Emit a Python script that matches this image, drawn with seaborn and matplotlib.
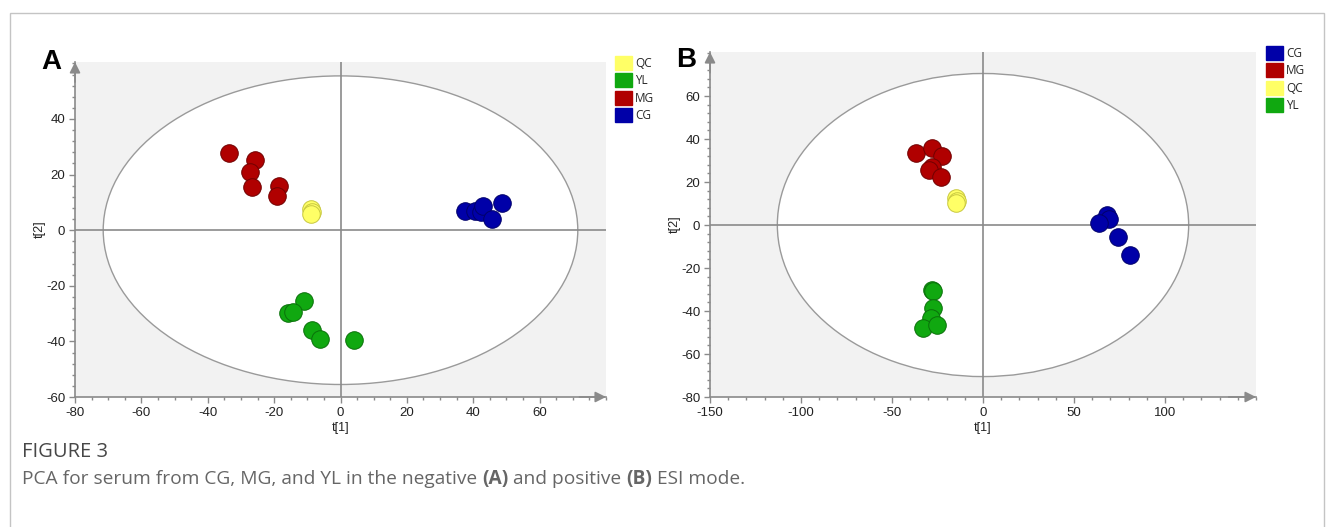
import matplotlib
matplotlib.use("Agg")
import matplotlib.pyplot as plt
from matplotlib.patches import Ellipse, Patch, Rectangle
from matplotlib.ticker import MultipleLocator
import pandas as pd
import seaborn as sns

# ---- data (PCA scores t[1], t[2]) ----
# Panel A: negative ESI mode
A_MG_X = [-33.5, -25.9, -27.2, -26.6, -18.6, -19.2]
A_MG_Y = [27.6, 25.3, 21.1, 15.4, 15.8, 12.2]
A_QC_X = [-8.8, -8.5, -9.0]
A_QC_Y = [7.6, 6.7, 5.8]
A_CG_X = [37.4, 40.6, 42.2, 43.0, 45.8, 48.6]
A_CG_Y = [7.0, 7.0, 6.4, 8.8, 4.2, 9.7]
A_YL_X = [-11.0, -15.9, -14.2, -8.5, -6.1, 4.1]
A_YL_Y = [-25.5, -29.8, -29.4, -35.8, -39.0, -39.4]
A_ELLIPSE = (71.5, 55.5)          # Hotelling T2 semi-axes
A_ORDER = ["QC", "YL", "MG", "CG"]

# Panel B: positive ESI mode
B_MG_X = [-36.6, -28.0, -22.5, -27.8, -29.4, -23.3]
B_MG_Y = [33.4, 35.9, 32.2, 26.9, 25.8, 22.5]
B_QC_X = [-15.0, -14.5, -15.0]
B_QC_Y = [12.5, 11.3, 10.2]
B_CG_X = [68.4, 69.1, 63.8, 74.3, 80.5]
B_CG_Y = [4.7, 2.7, 1.1, -5.5, -13.8]
B_YL_X = [-28.0, -27.3, -27.3, -28.7, -33.2, -25.4]
B_YL_Y = [-30.2, -30.6, -38.8, -43.1, -47.8, -46.6]
B_ELLIPSE = (113.0, 70.5)
B_ORDER = ["CG", "MG", "QC", "YL"]

COLORS = {"CG": "#0000A8", "MG": "#B00000", "QC": "#FFFF66", "YL": "#10A810"}
EDGES = {"CG": "#00006A", "MG": "#700000", "QC": "#C8C840", "YL": "#0A700A"}

sns.set_theme(style="white")
plt.rcParams["font.family"] = ["Liberation Sans", "DejaVu Sans"]
GREY = "#8A8A8A"

W, H = 1333, 527


def frame(groups):
    rows = []
    for name, xs, ys in groups:
        rows += [{"t1": x, "t2": y, "group": name} for x, y in zip(xs, ys)]
    return pd.DataFrame(rows)


df_a = frame([("MG", A_MG_X, A_MG_Y), ("QC", A_QC_X, A_QC_Y),
              ("CG", A_CG_X, A_CG_Y), ("YL", A_YL_X, A_YL_Y)])
df_b = frame([("MG", B_MG_X, B_MG_Y), ("QC", B_QC_X, B_QC_Y),
              ("CG", B_CG_X, B_CG_Y), ("YL", B_YL_X, B_YL_Y)])


def draw_panel(ax, df, ell, xlim, ylim, xmaj, xmin, ymaj, ymin, letter, order, leg_xy):
    ax.set_facecolor("#F2F2F2")
    ax.add_patch(Ellipse((0, 0), 2 * ell[0], 2 * ell[1], facecolor="white",
                         edgecolor="#9A9A9A", lw=1.0, zorder=0.5))
    ax.axhline(0, color=GREY, lw=1.2, zorder=1)
    ax.axvline(0, color=GREY, lw=1.2, zorder=1)

    for g in order:
        sub = df[df["group"] == g]
        sns.scatterplot(data=sub, x="t1", y="t2", ax=ax, color=COLORS[g],
                        edgecolor=EDGES[g], linewidth=0.7, s=160, zorder=3,
                        legend=False)

    ax.set_xlim(*xlim)
    ax.set_ylim(*ylim)
    ax.xaxis.set_major_locator(MultipleLocator(xmaj))
    ax.xaxis.set_minor_locator(MultipleLocator(xmin))
    ax.yaxis.set_major_locator(MultipleLocator(ymaj))
    ax.yaxis.set_minor_locator(MultipleLocator(ymin))
    ax.tick_params(which="major", length=4, width=1, color=GREY, labelsize=9.5,
                   labelcolor="#222222", pad=3, bottom=True, left=True)
    ax.tick_params(which="minor", length=2.5, width=1, color=GREY,
                   bottom=True, left=True)
    # no tick label at the arrow end of each axis
    xt = [t for t in ax.get_xticks() if xlim[0] <= t < xlim[1] - 2]
    yt = [t for t in ax.get_yticks() if ylim[0] <= t < ylim[1] - 2]
    ax.set_xticks(xt)
    ax.set_yticks(yt)
    ax.set_xticklabels([f"{t:g}" for t in xt])
    ax.set_yticklabels([f"{t:g}" for t in yt])

    for side in ["top", "right"]:
        ax.spines[side].set_visible(False)
    for side in ["left", "bottom"]:
        ax.spines[side].set_color(GREY)
        ax.spines[side].set_linewidth(1.2)
    ax.annotate("", xy=(1.0, 0), xytext=(0.95, 0), xycoords="axes fraction",
                arrowprops=dict(arrowstyle="-|>", color=GREY, lw=1.2,
                                mutation_scale=16, shrinkA=0, shrinkB=0))
    ax.annotate("", xy=(0, 1.0), xytext=(0, 0.94), xycoords="axes fraction",
                arrowprops=dict(arrowstyle="-|>", color=GREY, lw=1.2,
                                mutation_scale=16, shrinkA=0, shrinkB=0))

    ax.set_xlabel("t[1]", fontsize=9, color="#222222", labelpad=2)
    ax.set_ylabel("t[2]", fontsize=9, color="#222222", labelpad=0)
    ax.grid(False)

    handles = [Patch(facecolor=COLORS[g], edgecolor=COLORS[g], label=g) for g in order]
    leg = ax.figure.legend(handles=handles, loc="upper left",
                           bbox_to_anchor=(leg_xy[0] / W, 1 - leg_xy[1] / H),
                           frameon=False, handlelength=1.45,
                           handleheight=1.45, handletextpad=0.25,
                           labelspacing=0.28, borderpad=0, borderaxespad=0,
                           prop={"family": ["Open Sans", "DejaVu Sans"], "size": 8.5})
    ax.figure.text(*letter[1], letter[0], fontsize=20, fontweight="bold",
                   color="black", family=["Liberation Sans", "DejaVu Sans"],
                   ha="left", va="center", transform=ax.figure.transFigure)
    return leg


fig = plt.figure(figsize=(W / 100, H / 100), dpi=100)
ax_a = fig.add_axes([75 / W, 1 - 397 / H, (606 - 75) / W, (397 - 62) / H])
ax_b = fig.add_axes([710 / W, 1 - 397 / H, (1256 - 710) / W, (397 - 52) / H])

draw_panel(ax_a, df_a, A_ELLIPSE, (-80, 80), (-60, 60.5), 20, 5, 20, 4,
           ("A", (41 / W, 1 - 62 / H)), A_ORDER, (615, 56))
draw_panel(ax_b, df_b, B_ELLIPSE, (-150, 150), (-80, 80.5), 50, 10, 20, 4,
           ("B", (676 / W, 1 - 60 / H)), B_ORDER, (1266, 46))

# page frame
fig.add_artist(Rectangle((10 / W, -0.1), (1324 - 10) / W, 1 - 13 / H + 0.1,
                         transform=fig.transFigure, fill=False,
                         edgecolor="#C4C4C4", lw=1.0))

# caption
cap_font = ["Open Sans", "DejaVu Sans"]
fig.text(22 / W, 1 - 452 / H, "FIGURE 3", fontsize=14.5, color="#474747",
         family=cap_font, va="center", ha="left")
pieces = [("PCA for serum from CG, MG, and YL in the negative ", "normal"),
          ("(A)", "bold"), (" and positive ", "normal"), ("(B)", "bold"),
          (" ESI mode.", "normal")]
renderer = fig.canvas.get_renderer()
x_px = 22
for txt, wt in pieces:
    t = fig.text(x_px / W, 1 - 479 / H, txt, fontsize=13.8, color="#666666",
                 family=cap_font, fontweight=wt, va="center", ha="left")
    x_px += t.get_window_extent(renderer).width

fig.savefig("out.png", dpi=100)
